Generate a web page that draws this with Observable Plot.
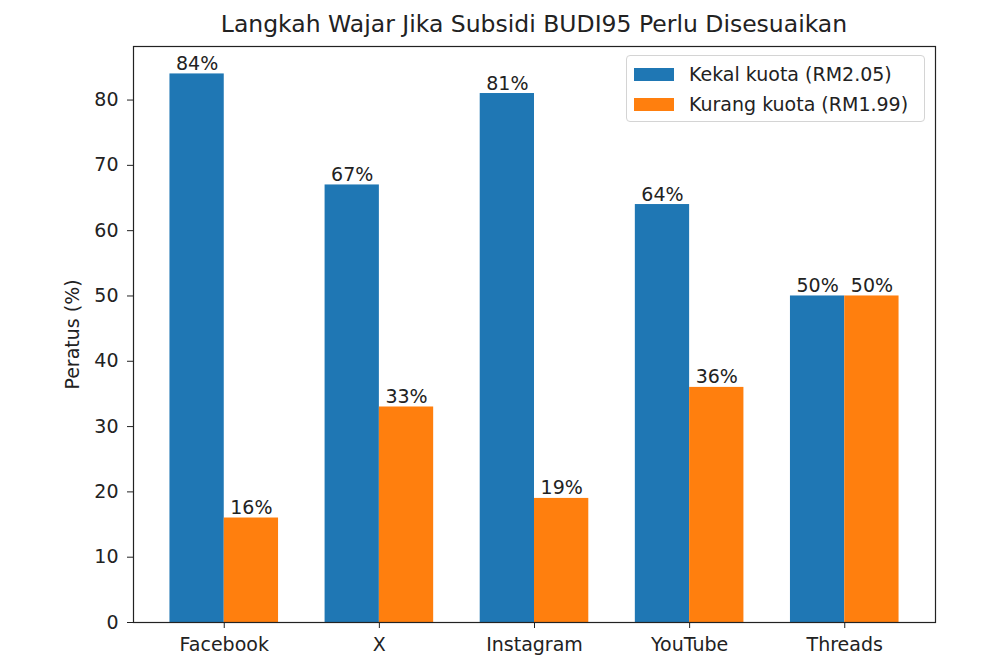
<!DOCTYPE html>
<html>
<head>
<meta charset="utf-8">
<script src="https://cdn.jsdelivr.net/npm/d3@7"></script>
<script src="https://cdn.jsdelivr.net/npm/@observablehq/plot@0.6"></script>
<style>
  html, body { margin: 0; padding: 0; background: #fff; }
  #wrap { position: relative; width: 1000px; height: 670px; font-family: "DejaVu Sans", sans-serif; color: #222; }
  #title { position: absolute; left: 134px; width: 800px; top: 10px; text-align: center; font-size: 23.5px; line-height: 28px; }
  #legend { position: absolute; left: 626px; top: 55px; width: 297px; height: 65px; border: 1px solid #d4d4d4; border-radius: 4px; background: rgba(255,255,255,0.85); }
  .row { position: absolute; left: 0; height: 30px; display: flex; align-items: center; font-size: 19px; }
  .sw { width: 40px; height: 13px; margin-left: 7px; margin-right: 15px; }
</style>
</head>
<body>
<div id="wrap">
  <div id="title">Langkah Wajar Jika Subsidi BUDI95 Perlu Disesuaikan</div>
  <div id="chart"></div>
  <div id="legend"></div>
</div>
<script>
const categories = ["Facebook", "X", "Instagram", "YouTube", "Threads"];
const seriesNames = ["Kekal kuota (RM2.05)", "Kurang kuota (RM1.99)"];
const kekal = [84, 67, 81, 64, 50];
const kurang = [16, 33, 19, 36, 50];
const colors = ["#1f77b4", "#ff7f0e"];
const yTicks = [0, 10, 20, 30, 40, 50, 60, 70, 80];

const barWidth = 0.35;
const rows = [];
categories.forEach((c, i) => {
  rows.push({cat: c, series: seriesNames[0], value: kekal[i], x1: i - barWidth, x2: i});
  rows.push({cat: c, series: seriesNames[1], value: kurang[i], x1: i, x2: i + barWidth});
});

const n = categories.length;
const pad = (n - 1 + 2 * barWidth) * 0.05;

const plot = Plot.plot({
  width: 1000,
  height: 670,
  marginLeft: 133,
  marginRight: 65,
  marginTop: 46,
  marginBottom: 48,
  style: {fontFamily: "DejaVu Sans, sans-serif", fontSize: "19px", color: "#222", background: "transparent"},
  x: {type: "linear", domain: [-barWidth - pad, n - 1 + barWidth + pad]},
  y: {domain: [0, 84 * 1.05]},
  color: {domain: seriesNames, range: colors},
  marks: [
    Plot.rect(rows, {x1: "x1", x2: "x2", y1: 0, y2: "value", fill: "series"}),
    Plot.text(rows, {x: d => (d.x1 + d.x2) / 2, y: "value", text: d => d.value + "%", lineAnchor: "bottom", dy: -4, fill: "#222", fontSize: 19}),
    Plot.axisX({ticks: d3.range(n), tickFormat: i => categories[i], tickSize: 6, tickPadding: 9, label: null, stroke: "#222"}),
    Plot.axisY({ticks: yTicks, tickSize: 6, tickPadding: 9, label: null, stroke: "#222"}),
    Plot.text(["Peratus (%)"], {frameAnchor: "left", dx: -61, rotate: -90, text: d => d, textAnchor: "middle", lineAnchor: "middle", fill: "#222", fontSize: 19}),
    Plot.frame({stroke: "#222", strokeWidth: 1.2})
  ]
});
document.getElementById("chart").appendChild(plot);

const legend = document.getElementById("legend");
seriesNames.forEach((s, i) => {
  const row = document.createElement("div");
  row.className = "row";
  row.style.top = (3 + i * 30) + "px";
  const sw = document.createElement("div");
  sw.className = "sw";
  sw.style.background = colors[i];
  const t = document.createElement("span");
  t.textContent = s;
  row.appendChild(sw);
  row.appendChild(t);
  legend.appendChild(row);
});
</script>
</body>
</html>
